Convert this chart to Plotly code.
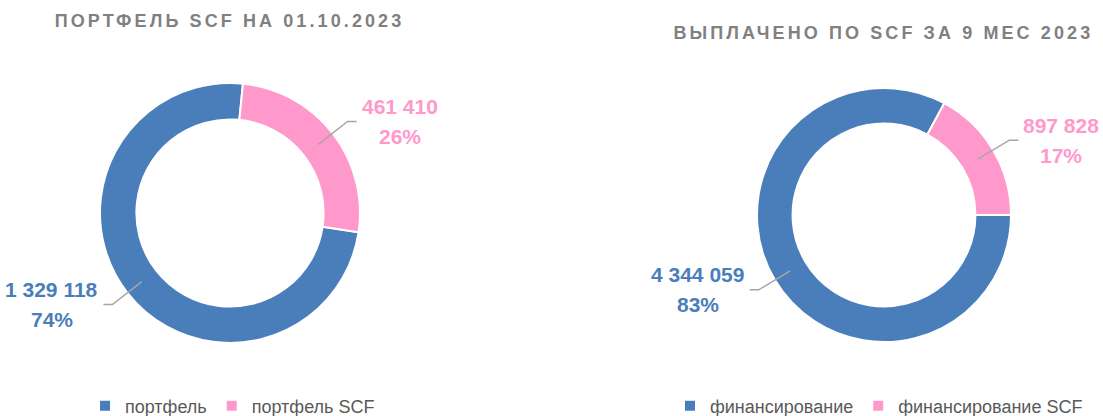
import math
import plotly.graph_objects as go

# ---------------- data ----------------
left_title = "ПОРТФЕЛЬ SCF НА 01.10.2023"
right_title = "ВЫПЛАЧЕНО ПО SCF ЗА 9 МЕС 2023"

left_labels = ["портфель", "портфель SCF"]
left_values = [1329118, 461410]

right_labels = ["финансирование", "финансирование SCF"]
right_values = [4344059, 897828]

slice_colors = ["#4A7EBB", "#FF99CC"]

# ---------------- geometry / style ----------------
W, H = 1103, 416
HOLE = 0.72
LABEL_SIZE = 21
LINE_GAP = 30
LABEL_FONT = "Liberation Sans, Arial, sans-serif"
TITLE_FONT = "Liberation Sans, Arial, sans-serif"
LEGEND_FONT = "Liberation Sans, Arial, sans-serif"

pies = [
    dict(labels=left_labels, values=left_values, cx=230, cy=213, r=130, rot=98.5,
         title=left_title, tx=229, ty=21, legend="legend", lx=85),
    dict(labels=right_labels, values=right_values, cx=884, cy=215, r=127, rot=90,
         title=right_title, tx=883, ty=33, legend="legend2", lx=670),
]


def px(x):
    return x / W


def py(y):
    return 1 - y / H


def fmt(v):
    return f"{v:,}".replace(",", " ")


def text_w(s, size):
    # approximate advance widths of Liberation Sans Bold
    em = {" ": 0.278, "%": 0.889}
    return sum(em.get(ch, 0.556) for ch in s) * size


fig = go.Figure()
annotations = []
shapes = []

for p in pies:
    fig.add_trace(go.Pie(
        labels=p["labels"], values=p["values"], hole=HOLE, sort=False,
        direction="clockwise", rotation=p["rot"],
        marker=dict(colors=slice_colors, line=dict(color="white", width=2)),
        textinfo="none", hoverinfo="label+value+percent",
        domain=dict(x=[px(p["cx"] - p["r"]), px(p["cx"] + p["r"])],
                    y=[py(p["cy"] + p["r"]), py(p["cy"] - p["r"])]),
        legend=p["legend"], showlegend=True,
    ))

    total = sum(p["values"])
    start = p["rot"]
    for i, v in enumerate(p["values"]):
        span = v / total * 360
        mid = math.radians(start + span / 2)
        start += span
        s, c = math.sin(mid), -math.cos(mid)
        r_mid = p["r"] * (1 + HOLE) / 2
        r_elb = p["r"] + 19
        x0, y0 = p["cx"] + r_mid * s, p["cy"] + r_mid * c
        x1, y1 = p["cx"] + r_elb * s, p["cy"] + r_elb * c
        sign = 1 if s >= 0 else -1
        x2, y2 = x1 + sign * 9, y1
        shapes.append(dict(
            type="path", xref="paper", yref="paper",
            path=f"M {px(x0)},{py(y0)} L {px(x1)},{py(y1)} L {px(x2)},{py(y2)}",
            line=dict(color="#A6A6A6", width=1.5),
        ))
        pct = round(v / total * 100)
        lines = [fmt(v), f"{pct}%"]
        block_w = max(text_w(t, LABEL_SIZE) for t in lines)
        bx = x2 + sign * (5 + block_w / 2)
        for k, t in enumerate(lines):
            annotations.append(dict(
                text=f"<b>{t}</b>", xref="paper", yref="paper",
                x=px(bx), y=py(y2 + (k - 0.5) * LINE_GAP),
                xanchor="center", yanchor="middle", showarrow=False,
                font=dict(family=LABEL_FONT, size=LABEL_SIZE, color=slice_colors[i]),
            ))

    annotations.append(dict(
        text=f"<b>{p['title']}</b>", xref="paper", yref="paper",
        x=px(p["tx"]), y=py(p["ty"]), xanchor="center", yanchor="middle",
        showarrow=False, font=dict(family=TITLE_FONT, size=18, color="#808080"),
    ))

legend_common = dict(
    orientation="h", yanchor="middle", xanchor="left", y=py(406),
    font=dict(family=LEGEND_FONT, size=18, color="#595959"),
    bgcolor="rgba(0,0,0,0)", borderwidth=0, itemclick=False, itemdoubleclick=False,
)

fig.update_layout(
    width=W, height=H,
    margin=dict(l=0, r=0, t=0, b=0, autoexpand=False),
    paper_bgcolor="white", plot_bgcolor="white",
    annotations=annotations, shapes=shapes,
    legend=dict(**legend_common, x=px(pies[0]["lx"])),
    legend2=dict(**legend_common, x=px(pies[1]["lx"])),
)

post = """
document.body.style.margin = '0';
var gd = document.getElementById('{plot_id}');
var titles = %r;
gd.querySelectorAll('.annotation-text').forEach(function(t){
  if (titles.indexOf(t.textContent) >= 0) { t.style.letterSpacing = '3.1px'; }
});
""" % [left_title, right_title]

fig.write_html("out.html", post_script=post, config={"displayModeBar": False})
